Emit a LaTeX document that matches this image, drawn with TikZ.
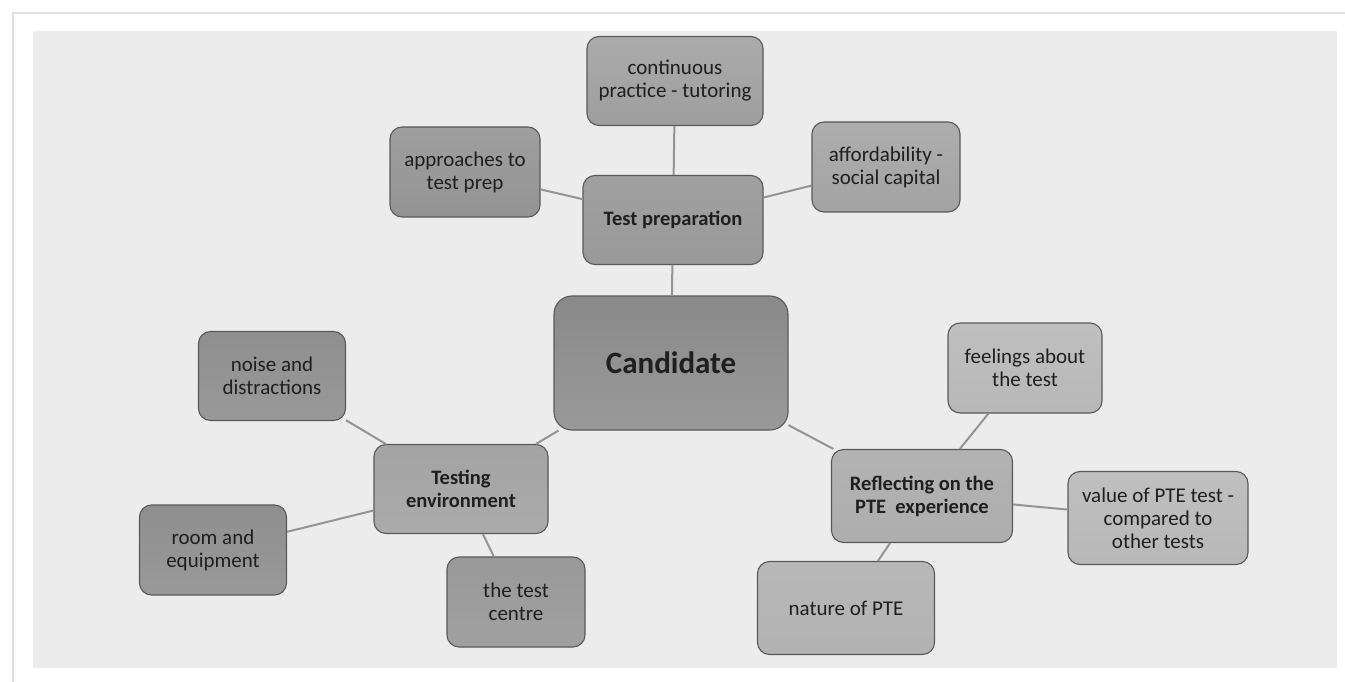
\documentclass[tikz,border=0pt]{standalone}
\usepackage{fontspec}
\setmainfont{Carlito}
\begin{document}
\begin{tikzpicture}[x=1pt,y=-1pt,
  box/.style={draw=black!65, line width=1.1pt, rounded corners=12pt, align=center,
    inner sep=2pt, font=\fontsize{21}{23}\selectfont, text=black!88},
  hub/.style={box, font=\bfseries\fontsize{20.5}{23}\selectfont},
  conn/.style={draw=black!42, line width=2pt}]
\useasboundingbox (0,0) rectangle (1345,682);
\fill[white] (0,0) rectangle (1345,682);
\fill[black!12] (12,12) rectangle (1345,14);
\fill[black!12] (12,12) rectangle (14,682);
\fill[white] (14,14) rectangle (1345,682);
\fill[black!7.5] (33,31) rectangle (1337,668);
% Test preparation cluster
\node[box, minimum width=176pt, minimum height=89pt, top color=black!33, bottom color=black!38] (cp) at (675,81) {continuous\\practice - tutoring};
\node[box, minimum width=150pt, minimum height=90pt, top color=black!38, bottom color=black!42] (ap) at (465,172) {approaches to\\test prep};
\node[box, minimum width=148pt, minimum height=90pt, top color=black!32, bottom color=black!36] (af) at (886,167) {affordability -\\social capital};
\node[hub, minimum width=180pt, minimum height=89pt, top color=black!37, bottom color=black!40] (tp) at (673,220) {Test preparation};
% Candidate
\node[box, minimum width=234pt, minimum height=134pt, top color=black!46, bottom color=black!40, rounded corners=18pt, font=\bfseries\fontsize{31}{34}\selectfont] (ca) at (671,363) {Candidate};
% Testing environment cluster
\node[box, minimum width=147pt, minimum height=89pt, top color=black!44, bottom color=black!40] (no) at (272,376) {noise and\\distractions};
\node[hub, minimum width=174pt, minimum height=89pt, top color=black!36, bottom color=black!33] (te) at (461,489) {Testing\\environment};
\node[box, minimum width=147pt, minimum height=90pt, top color=black!44, bottom color=black!40] (ro) at (213,550) {room and\\equipment};
\node[box, minimum width=138pt, minimum height=90pt, top color=black!40, bottom color=black!37] (tc) at (516,602) {the test\\centre};
% Reflecting cluster
\node[box, minimum width=154pt, minimum height=90pt, top color=black!25, bottom color=black!28] (fe) at (1025,368) {feelings about\\the test};
\node[hub, minimum width=181pt, minimum height=93pt, top color=black!30, bottom color=black!32] (re) at (922,496) {Reflecting on the\\PTE\ \ experience};
\node[box, minimum width=180pt, minimum height=93pt, top color=black!25, bottom color=black!28] (va) at (1158,518) {value of PTE test -\\compared to\\other tests};
\node[box, minimum width=177pt, minimum height=93pt, top color=black!28, bottom color=black!30] (na) at (846,608) {nature of PTE};
% connectors
\draw[conn] (cp) -- (tp);
\draw[conn] (ap) -- (tp);
\draw[conn] (af) -- (tp);
\draw[conn] (tp) -- (ca);
\draw[conn] (ca) -- (te);
\draw[conn] (ca) -- (re);
\draw[conn] (no) -- (te);
\draw[conn] (ro) -- (te);
\draw[conn] (tc) -- (te);
\draw[conn] (fe) -- (re);
\draw[conn] (va) -- (re);
\draw[conn] (na) -- (re);
\end{tikzpicture}
\end{document}
